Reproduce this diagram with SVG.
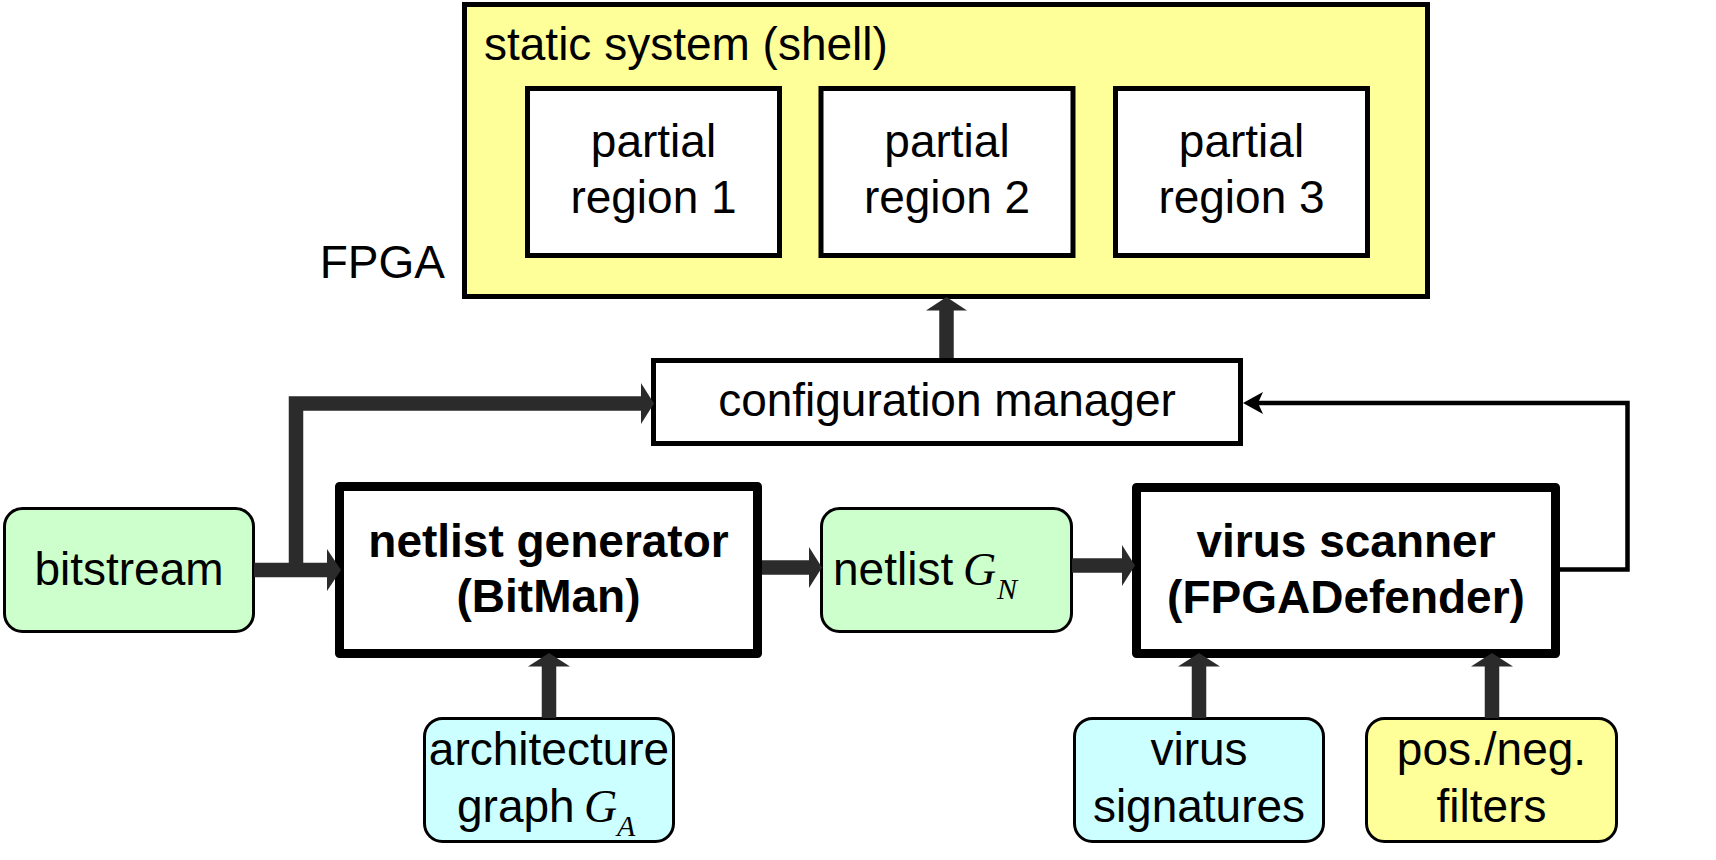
<svg xmlns="http://www.w3.org/2000/svg" width="1716" height="860" viewBox="0 0 1716 860">
<style>
  .t { font-family: "Liberation Sans", Arial, Helvetica, sans-serif; font-size: 46px; fill: #000; }
  .b { font-weight: bold; }
  .m { font-family: "Liberation Serif", "Times New Roman", serif; font-style: italic; fill: #000; }
  .box { fill: #fff; stroke: #000; stroke-width: 5; }
  .thick { fill: #fff; stroke: #000; stroke-width: 9; stroke-linejoin: round; }
  .round { stroke: #000; stroke-width: 3; }
  .green { fill: #ccffcc; }
  .cyan { fill: #ccffff; }
  .yellow { fill: #ffff99; }
  .shaft { fill: none; stroke: #2b2b2b; stroke-width: 14.5; stroke-linejoin: miter; }
  .head { fill: #2b2b2b; }
  .thin { fill: none; stroke: #000; stroke-width: 4.5; stroke-linejoin: miter; }
</style>
<rect width="1716" height="860" fill="#fff"/>

<g id="fpga">
  <rect x="464.5" y="4.5" width="963" height="292" fill="#ffff99" stroke="#000" stroke-width="5"/>
  <text class="t" x="484" y="60">static system (shell)</text>
  <text class="t" x="445" y="278" text-anchor="end">FPGA</text>
</g>
<g id="region1">
  <rect class="box" x="527.5" y="88.5" width="252" height="167"/>
  <text class="t" x="653.5" y="157" text-anchor="middle">partial</text>
  <text class="t" x="653.5" y="213" text-anchor="middle">region 1</text>
</g>
<g id="region2">
  <rect class="box" x="821" y="88.5" width="252" height="167"/>
  <text class="t" x="947" y="157" text-anchor="middle">partial</text>
  <text class="t" x="947" y="213" text-anchor="middle">region 2</text>
</g>
<g id="region3">
  <rect class="box" x="1115.5" y="88.5" width="252" height="167"/>
  <text class="t" x="1241.5" y="157" text-anchor="middle">partial</text>
  <text class="t" x="1241.5" y="213" text-anchor="middle">region 3</text>
</g>

<g id="config-manager">
  <rect class="box" x="653.5" y="360.5" width="587" height="83"/>
  <text class="t" x="947" y="416" text-anchor="middle">configuration manager</text>
</g>

<g id="bitstream">
  <rect class="round green" x="4.5" y="508.5" width="249" height="123" rx="18"/>
  <text class="t" x="129" y="585" text-anchor="middle">bitstream</text>
</g>

<g id="netlist-generator">
  <rect class="thick" x="339.5" y="486.5" width="418" height="167"/>
  <text class="t b" x="548.5" y="557" text-anchor="middle">netlist generator</text>
  <text class="t b" x="548.5" y="612" text-anchor="middle">(BitMan)</text>
</g>

<g id="netlist">
  <rect class="round green" x="821.5" y="508.5" width="250" height="123" rx="18"/>
  <text class="t" x="833" y="585">netlist</text>
  <text class="m" x="963" y="585" font-size="46">G</text>
  <text class="m" x="997" y="599" font-size="30">N</text>
</g>

<g id="virus-scanner">
  <rect class="thick" x="1136.5" y="487.5" width="419" height="166"/>
  <text class="t b" x="1346" y="557" text-anchor="middle">virus scanner</text>
  <text class="t b" x="1346" y="613" text-anchor="middle">(FPGADefender)</text>
</g>

<g id="architecture-graph">
  <rect class="round cyan" x="424.5" y="718.5" width="249" height="123" rx="18"/>
  <text class="t" x="549" y="765" text-anchor="middle">architecture</text>
  <text class="t" x="457" y="822">graph</text>
  <text class="m" x="584" y="822" font-size="46">G</text>
  <text class="m" x="617" y="836" font-size="30">A</text>
</g>

<g id="virus-signatures">
  <rect class="round cyan" x="1074.5" y="718.5" width="249" height="123" rx="18"/>
  <text class="t" x="1199" y="765" text-anchor="middle">virus</text>
  <text class="t" x="1199" y="822" text-anchor="middle">signatures</text>
</g>

<g id="filters">
  <rect class="round yellow" x="1366.5" y="718.5" width="250" height="123" rx="18"/>
  <text class="t" x="1491.5" y="765" text-anchor="middle">pos./neg.</text>
  <text class="t" x="1491.5" y="822" text-anchor="middle">filters</text>
</g>

<g id="connectors">
  <!-- config manager to FPGA -->
  <path class="shaft" d="M946.5,358 V309"/>
  <polygon class="head" points="926,310.5 946.5,297 967,310.5"/>
  <!-- bitstream to netlist generator -->
  <path class="shaft" d="M254,570 H328"/>
  <polygon class="head" points="327,549 341,570 327,591"/>
  <!-- bitstream branch to config manager -->
  <path class="shaft" d="M296,570 V403.5 H642"/>
  <polygon class="head" points="641,383 654,403.5 641,424"/>
  <!-- netlist generator to netlist -->
  <path class="shaft" d="M762,567.5 H810"/>
  <polygon class="head" points="809,547 822,567.5 809,588"/>
  <!-- netlist to virus scanner -->
  <path class="shaft" d="M1072,565.5 H1123"/>
  <polygon class="head" points="1122,545 1135,565.5 1122,586"/>
  <!-- architecture graph to netlist generator -->
  <path class="shaft" d="M549,718 V665"/>
  <polygon class="head" points="528,666.5 549,653 570,666.5"/>
  <!-- virus signatures to virus scanner -->
  <path class="shaft" d="M1199,718 V665"/>
  <polygon class="head" points="1178,666.5 1199,653 1220,666.5"/>
  <!-- filters to virus scanner -->
  <path class="shaft" d="M1492,718 V665"/>
  <polygon class="head" points="1471,666.5 1492,653 1513,666.5"/>
  <!-- feedback: virus scanner to config manager -->
  <path class="thin" d="M1560,569.5 H1627.5 V403 H1258"/>
  <polygon points="1243,403 1263,392 1258,403 1263,414" fill="#000"/>
</g>
</svg>
